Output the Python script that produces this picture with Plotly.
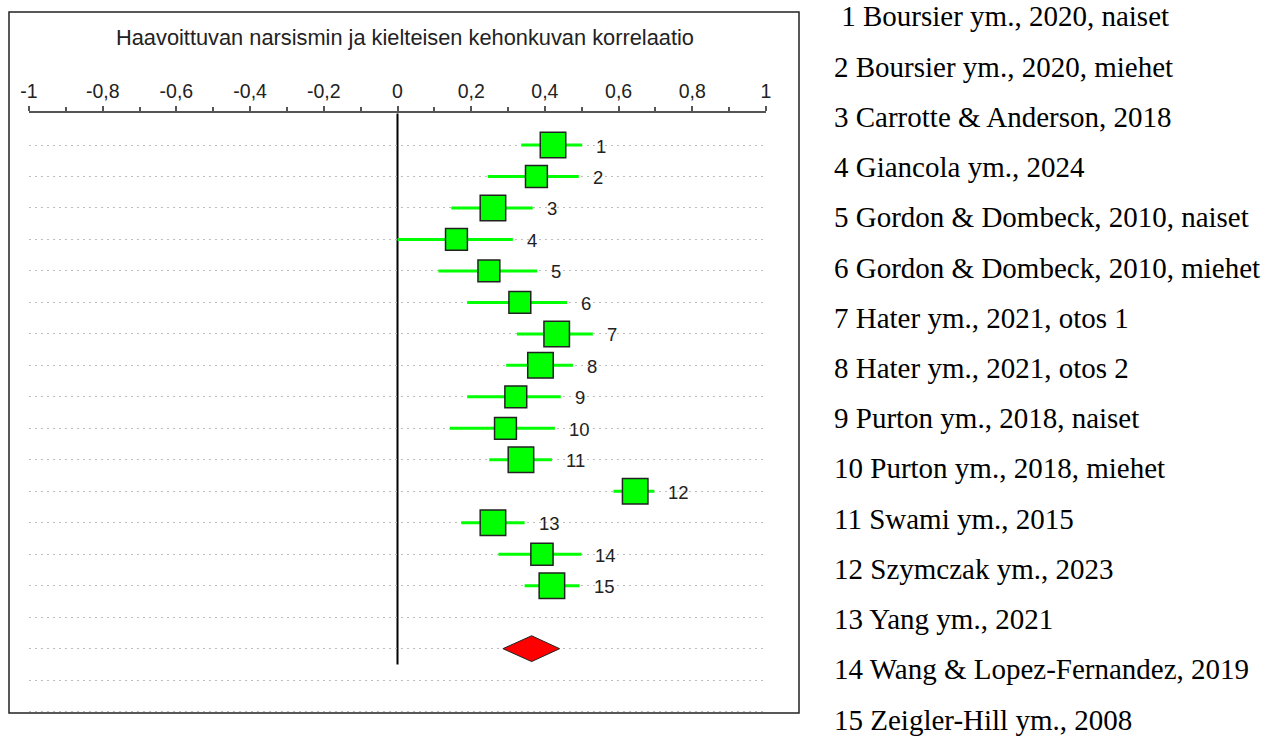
import numpy as np
import plotly.graph_objects as go

# ---------------- data ----------------
study_ids = list(range(1, 16))
study_names = [
    "Boursier ym., 2020, naiset",
    "Boursier ym., 2020, miehet",
    "Carrotte & Anderson, 2018",
    "Giancola ym., 2024",
    "Gordon & Dombeck, 2010, naiset",
    "Gordon & Dombeck, 2010, miehet",
    "Hater ym., 2021, otos 1",
    "Hater ym., 2021, otos 2",
    "Purton ym., 2018, naiset",
    "Purton ym., 2018, miehet",
    "Swami ym., 2015",
    "Szymczak ym., 2023",
    "Yang ym., 2021",
    "Wang & Lopez-Fernandez, 2019",
    "Zeigler-Hill ym., 2008",
]
estimate = [0.422, 0.377, 0.259, 0.160, 0.248, 0.332, 0.432, 0.388, 0.321, 0.293, 0.335, 0.645, 0.259, 0.392, 0.419]
ci_low = [0.336, 0.245, 0.146, 0.000, 0.111, 0.189, 0.324, 0.295, 0.189, 0.142, 0.249, 0.586, 0.173, 0.274, 0.345]
ci_high = [0.501, 0.492, 0.367, 0.313, 0.379, 0.460, 0.530, 0.476, 0.443, 0.427, 0.419, 0.697, 0.345, 0.499, 0.494]
weights = [7.0, 6.0, 7.0, 6.0, 6.0, 6.0, 7.0, 7.0, 6.0, 6.0, 7.0, 7.0, 7.0, 6.1, 7.0]

summary_est = 0.364
summary_low = 0.286
summary_high = 0.440

tick_values = [-1, -0.8, -0.6, -0.4, -0.2, 0, 0.2, 0.4, 0.6, 0.8, 1]
tick_labels = ["-1", "-0,8", "-0,6", "-0,4", "-0,2", "0", "0,2", "0,4", "0,6", "0,8", "1"]
minor_tick_values = [-0.9, -0.7, -0.5, -0.3, -0.1, 0.1, 0.3, 0.5, 0.7, 0.9]

title_text = "Haavoittuvan narsismin ja kielteisen kehonkuvan korrelaatio"

# ---------------- layout constants ----------------
W, H = 1268, 736
n = len(estimate)
rows = list(range(1, n + 1))
summary_row = n + 2
n_grid = n + 4

def px_x(p):
    return p / W

def px_y(p):
    return (H - p) / H

GREEN = "#00ff00"
DARK = "#222222"

fig = go.Figure()

# CI lines
xs, ys = [], []
for lo, hi, r in zip(ci_low, ci_high, rows):
    xs += [lo, hi, None]
    ys += [r, r, None]
fig.add_trace(go.Scatter(x=xs, y=ys, mode="lines",
                         line=dict(color=GREEN, width=3),
                         hoverinfo="skip", showlegend=False))

# boxes
wmax = max(weights)
sizes = [25.5 * w / wmax for w in weights]
fig.add_trace(go.Scatter(
    x=estimate, y=rows, mode="markers",
    marker=dict(symbol="square", size=sizes, color=GREEN, opacity=1,
                line=dict(color=DARK, width=1.5)),
    text=study_names, hovertemplate="%{text}: %{x}<extra></extra>",
    showlegend=False))

# summary diamond
hh = 0.41
fig.add_trace(go.Scatter(
    x=[summary_low, summary_est, summary_high, summary_est, summary_low],
    y=[summary_row, summary_row - hh, summary_row, summary_row + hh, summary_row],
    mode="lines", fill="toself", fillcolor="#ff0000",
    line=dict(color=DARK, width=1), hoverinfo="skip", showlegend=False))

# zero line
fig.add_shape(type="line", xref="x", yref="y", x0=0, x1=0, y0=0, y1=summary_row + 0.5,
              line=dict(color="black", width=2), layer="below")

# study number labels
for sid, hi, r in zip(study_ids, ci_high, rows):
    fig.add_annotation(x=hi, y=r, text=str(sid), showarrow=False,
                       xanchor="left", yanchor="middle", xshift=12, yshift=-1,
                       font=dict(family="Liberation Sans, Arial", size=18.5, color=DARK))

# outer frame
fig.add_shape(type="rect", xref="paper", yref="paper",
              x0=px_x(9), x1=px_x(799), y0=px_y(713), y1=px_y(12),
              line=dict(color=DARK, width=1.5), fillcolor="rgba(0,0,0,0)")

# title
fig.add_annotation(xref="paper", yref="paper", x=px_x(405), y=px_y(38),
                   text=title_text, showarrow=False, xanchor="center", yanchor="middle",
                   font=dict(family="Liberation Sans, Arial", size=21.8, color=DARK))

# legend list on the right
leg_first, leg_last = 16.5, 719.5
leg_step = (leg_last - leg_first) / (n - 1)
for i, (sid, name) in enumerate(zip(study_ids, study_names)):
    label = f"{sid} {name}"
    if i == 0:
        label = "\u00a0" + label
    fig.add_annotation(xref="paper", yref="paper", x=px_x(833), y=px_y(leg_first + leg_step * i),
                       text=label, showarrow=False, xanchor="left", yanchor="middle",
                       borderpad=0,
                       font=dict(family="Liberation Serif, Times New Roman", size=29, color="black"))

top_row = 1 - (145 - 112.7) / 31.48
bottom_row = 1 + (713 - 145) / 31.48

fig.update_layout(
    width=W, height=H, margin=dict(l=0, r=0, t=0, b=0, pad=0, autoexpand=False),
    paper_bgcolor="white", plot_bgcolor="white",
    xaxis=dict(range=[-1, 1], domain=[px_x(29), px_x(766)], side="top",
               automargin=False,
               showline=True, linecolor="#555555", linewidth=2,
               ticks="outside", ticklen=5, tickwidth=1.5, tickcolor="#555555",
               tickvals=tick_values, ticktext=tick_labels,
               minor=dict(tickvals=minor_tick_values, ticks="outside", ticklen=4,
                          tickwidth=1.5, tickcolor="#555555", showgrid=False),
               tickfont=dict(family="Liberation Sans, Arial", size=19.5, color=DARK),
               showgrid=False, zeroline=False, fixedrange=True),
    yaxis=dict(range=[bottom_row, top_row], domain=[px_y(713), px_y(112.7)],
               automargin=False,
               tickvals=list(range(1, n_grid + 1)), showticklabels=False, ticks="",
               showgrid=True, gridcolor="#bdbdbd", gridwidth=1, griddash="2px,4px",
               zeroline=False, showline=False, fixedrange=True),
)

fig.write_html("out.html", config={"displayModeBar": False},
               post_script="document.body.style.margin='0';document.body.style.overflow='hidden';")
